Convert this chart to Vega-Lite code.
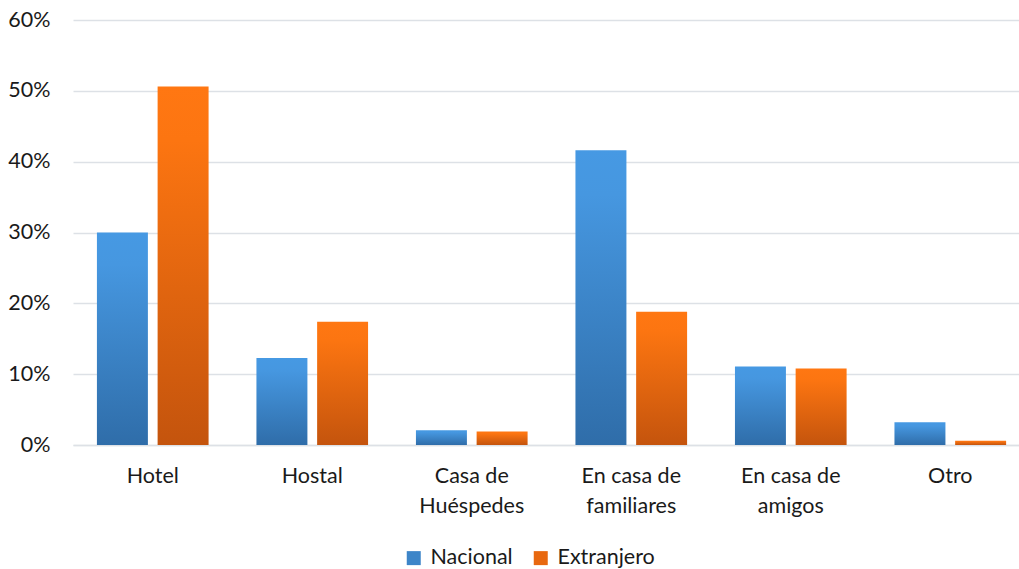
{
  "$schema": "https://vega.github.io/schema/vega-lite/v6.json",
  "autosize": "none",
  "width": 946,
  "height": 425,
  "padding": {"left": 73, "top": 20, "right": 0, "bottom": 124},
  "background": "white",
  "data": {
    "values": [
      {"tipo": "Hotel", "origen": "Nacional", "valor": 0.300},
      {"tipo": "Hotel", "origen": "Extranjero", "valor": 0.506},
      {"tipo": "Hostal", "origen": "Nacional", "valor": 0.123},
      {"tipo": "Hostal", "origen": "Extranjero", "valor": 0.174},
      {"tipo": "Casa de Huéspedes", "origen": "Nacional", "valor": 0.021},
      {"tipo": "Casa de Huéspedes", "origen": "Extranjero", "valor": 0.019},
      {"tipo": "En casa de familiares", "origen": "Nacional", "valor": 0.416},
      {"tipo": "En casa de familiares", "origen": "Extranjero", "valor": 0.188},
      {"tipo": "En casa de amigos", "origen": "Nacional", "valor": 0.111},
      {"tipo": "En casa de amigos", "origen": "Extranjero", "valor": 0.108},
      {"tipo": "Otro", "origen": "Nacional", "valor": 0.032},
      {"tipo": "Otro", "origen": "Extranjero", "valor": 0.006}
    ]
  },
  "encoding": {
    "x": {
      "field": "tipo",
      "type": "nominal",
      "sort": null,
      "title": null,
      "scale": {"paddingInner": 0.3, "paddingOuter": 0.1154, "align": 0.65},
      "axis": {
        "labelAngle": 0,
        "labelFont": "Lato",
        "labelFontSize": 21.5,
        "labelColor": "#1a1a1a",
        "labelPadding": 20,
        "labelLineHeight": 30,
        "ticks": false,
        "domainColor": "#DDE1E6",
        "domainWidth": 1.5,
        "labelExpr": "datum.value === 'Casa de Huéspedes' ? ['Casa de', 'Huéspedes'] : datum.value === 'En casa de familiares' ? ['En casa de', 'familiares'] : datum.value === 'En casa de amigos' ? ['En casa de', 'amigos'] : datum.value"
      }
    },
    "xOffset": {
      "field": "origen",
      "type": "nominal",
      "sort": ["Nacional", "Extranjero"],
      "scale": {"domain": ["Nacional", "Extranjero"], "paddingInner": 0.16, "paddingOuter": 0}
    },
    "y": {
      "field": "valor",
      "type": "quantitative",
      "title": null,
      "scale": {"domain": [0, 0.6], "nice": false},
      "axis": {
        "format": ".0%",
        "values": [0, 0.1, 0.2, 0.3, 0.4, 0.5, 0.6],
        "labelFont": "Lato",
        "labelFontSize": 21.5,
        "labelColor": "#1a1a1a",
        "labelPadding": 23,
        "ticks": false,
        "domain": false,
        "gridColor": "#DDE1E6",
        "gridWidth": 1.5
      }
    }
  },
  "layer": [
    {
      "mark": {"type": "bar", "opacity": 0},
      "encoding": {
        "color": {
          "field": "origen",
          "type": "nominal",
          "title": null,
          "scale": {"domain": ["Nacional", "Extranjero"], "range": ["#3D85C8", "#E8680F"]},
          "legend": {
            "orient": "none",
            "direction": "horizontal",
            "legendX": 330,
            "legendY": 527,
            "symbolType": "square",
            "symbolSize": 196,
            "symbolOpacity": 1,
            "symbolStrokeWidth": 0,
            "labelFont": "Lato",
            "labelFontSize": 21.5,
            "labelColor": "#1a1a1a",
            "labelOffset": 6,
            "columnPadding": 17
          }
        }
      }
    },
    {
      "transform": [{"filter": "datum.origen === 'Nacional'"}],
      "mark": {
        "type": "bar",
        "color": {"gradient": "linear", "x1": 0, "y1": 0, "x2": 0, "y2": 1, "stops": [{"offset": 0, "color": "#4699E3"}, {"offset": 0.15, "color": "#4697E0"}, {"offset": 1, "color": "#2F6DA9"}]}
      }
    },
    {
      "transform": [{"filter": "datum.origen === 'Extranjero'"}],
      "mark": {
        "type": "bar",
        "color": {"gradient": "linear", "x1": 0, "y1": 0, "x2": 0, "y2": 1, "stops": [{"offset": 0, "color": "#FF7712"}, {"offset": 0.15, "color": "#FC7511"}, {"offset": 1, "color": "#C4540D"}]}
      }
    }
  ],
  "config": {"view": {"stroke": null}}
}
